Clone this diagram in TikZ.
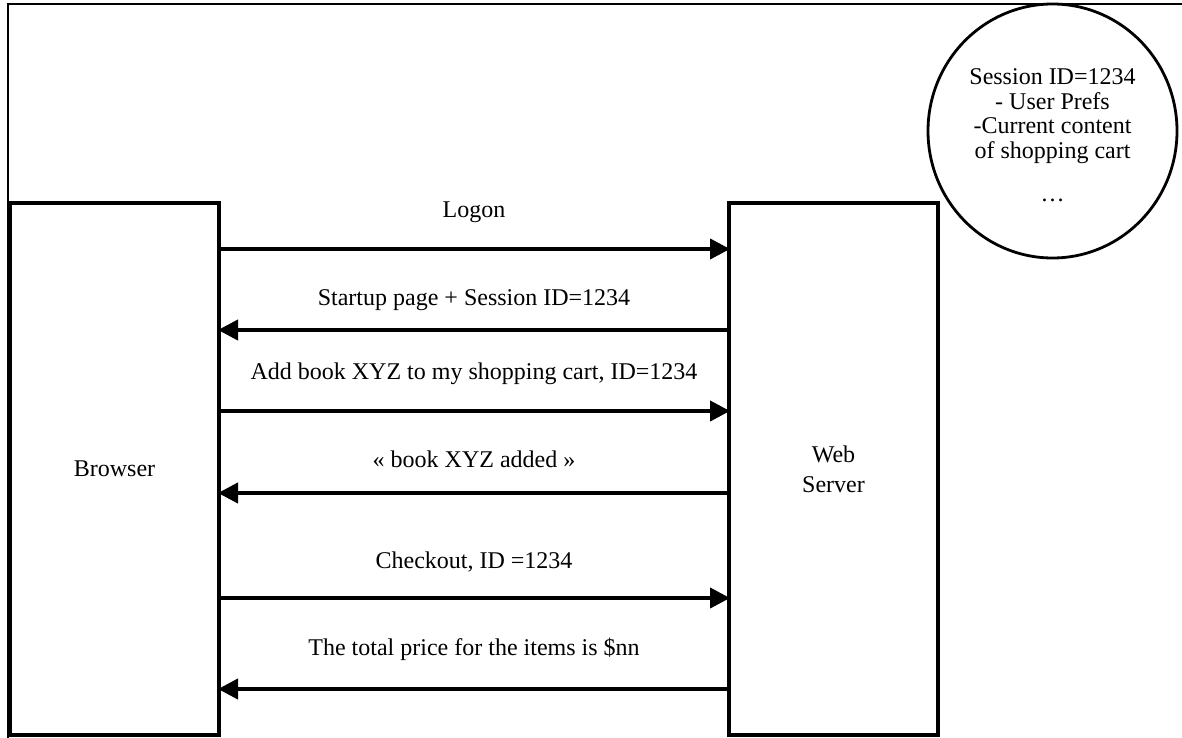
\documentclass[tikz,border=0pt]{standalone}
\usepackage{fontspec}
\setmainfont{Liberation Serif}
\usetikzlibrary{arrows.meta,shapes.geometric}
\begin{document}
\begin{tikzpicture}[x=1pt,y=-1pt,
  every node/.style={font=\fontsize{24}{30}\selectfont, inner sep=0pt, outer sep=0pt},
  party/.style={draw, line width=3.5pt, minimum width=209pt, minimum height=532pt, align=center},
  msg/.style={line width=4pt, -{Triangle[length=20pt,width=20pt]}, shorten >=-1pt},
  lbl/.style={anchor=base},
  frameline/.style={line width=2.8pt},
  memory/.style={draw, ellipse, line width=2.8pt, minimum width=249pt, minimum height=254pt}]
\useasboundingbox (0,0) rectangle (1182,738);
\fill[white] (0,0) rectangle (1182,738);
% outer frame (top and left visible)
\coordinate (fa) at (8,740);
\coordinate (fb) at (8,4);
\coordinate (fc) at (1186,4);
\draw[frameline] (fa) -- (fb) -- (fc);
% session memory
\node[memory, fill=white] (mem) at (1052.5,131) {};
\node[lbl] (m1) at (1052.5,85) {Session ID=1234};
\node[lbl] (m2) at (1052.5,110) {- User Prefs};
\node[lbl] (m3) at (1052.5,134) {-Current content};
\node[lbl] (m4) at (1052.5,159) {of shopping cart};
\node[lbl] (m5) at (1052.5,201) {…};
% parties
\node[party, fill=white] (browser) at (114.5,469) {Browser};
\node[party, fill=white] (server) at (833.5,469) {Web\\Server};
% messages
\node[lbl] (t1) at (474,217) {Logon};
\draw[msg] (browser.east |- 0,249) -- (server.west |- 0,249);
\node[lbl] (t2) at (474,305) {Startup page + Session ID=1234};
\draw[msg] (server.west |- 0,330) -- (browser.east |- 0,330);
\node[lbl] (t3) at (474,379) {Add book XYZ to my shopping cart, ID=1234};
\draw[msg] (browser.east |- 0,411) -- (server.west |- 0,411);
\node[lbl] (t4) at (474,467) {« book XYZ added »};
\draw[msg] (server.west |- 0,493) -- (browser.east |- 0,493);
\node[lbl] (t5) at (474,568) {Checkout, ID =1234};
\draw[msg] (browser.east |- 0,598) -- (server.west |- 0,598);
\node[lbl] (t6) at (474,655) {The total price for the items is \$nn};
\draw[msg] (server.west |- 0,689) -- (browser.east |- 0,689);
\end{tikzpicture}
\end{document}
